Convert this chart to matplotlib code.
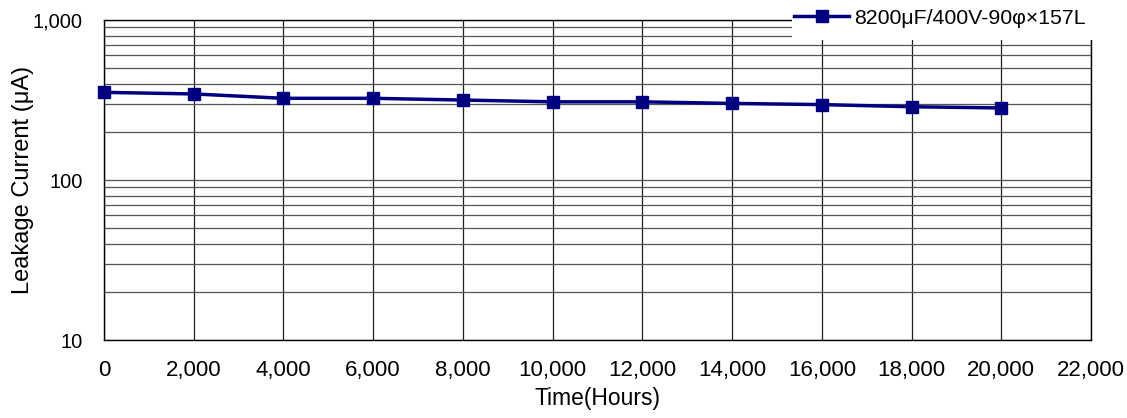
import matplotlib
matplotlib.use("Agg")
import matplotlib.pyplot as plt
from matplotlib.patches import Rectangle
from matplotlib.ticker import FixedLocator, FuncFormatter, LogLocator, NullFormatter

plt.rcParams['font.family'] = ['Liberation Sans', 'DejaVu Sans']

hours = [0, 2000, 4000, 6000, 8000, 10000, 12000, 14000, 16000, 18000, 20000]
leakage = [353, 345, 324, 324, 316, 308, 308, 301, 296, 287, 282]
series_label = "8200μF/400V-90φ×157L"
x_ticks = list(range(0, 22001, 2000))
y_ticks = [10, 100, 1000]

fig = plt.figure(figsize=(11.27, 4.18), dpi=100)
ax = fig.add_axes([104/1127, 1-340/418, (1091-104)/1127, (340-20)/418])

ax.set_yscale('log')
ax.set_xlim(0, 22000)
ax.set_ylim(10, 1000)

ax.xaxis.set_major_locator(FixedLocator(x_ticks))
ax.xaxis.set_major_formatter(FuncFormatter(lambda v, p: f"{int(v):,}"))
ax.yaxis.set_major_locator(FixedLocator(y_ticks))
ax.yaxis.set_major_formatter(FuncFormatter(lambda v, p: f"{int(round(v)):,}"))
ax.yaxis.set_minor_locator(LogLocator(base=10, subs=range(2, 10)))
ax.yaxis.set_minor_formatter(NullFormatter())

ax.grid(True, axis='x', which='major', color='#202020', lw=0.9)
ax.grid(True, axis='y', which='both', color='#555555', lw=0.9)
ax.set_axisbelow(True)

ax.tick_params(axis='both', which='both', length=0)
ax.tick_params(axis='x', pad=14.5, labelsize=16)
ax.tick_params(axis='y', pad=15.5, labelsize=14.5)

for s in ax.spines.values():
    s.set_color('black')
    s.set_linewidth(1.0)

line, = ax.plot(hours, leakage, color='#000080', lw=2.5, marker='s',
                markersize=8.5, markerfacecolor='#000080', markeredgecolor='#000080',
                label=series_label, zorder=3, clip_on=False)

ax.set_xlabel("Time(Hours)", fontsize=16.5, labelpad=4)
ax.set_ylabel("Leakage Current (μA)", fontsize=17)
ax.yaxis.set_label_coords(-0.071, 0.5)

# white legend area covering the top-right of the plot
fig.patches.append(Rectangle((792/1127, 1-40/418), (1127-792)/1127, 40/418,
                             transform=fig.transFigure, facecolor='white',
                             edgecolor='none', zorder=10))
leg = fig.legend(handles=[line], loc='center left',
                 bbox_to_anchor=(794/1127, 1-18/418), frameon=False,
                 fontsize=15.3, handlelength=2.6, handletextpad=0.25,
                 borderaxespad=0, borderpad=0)
leg.set_zorder(11)

fig.savefig("out.png", dpi=100)
